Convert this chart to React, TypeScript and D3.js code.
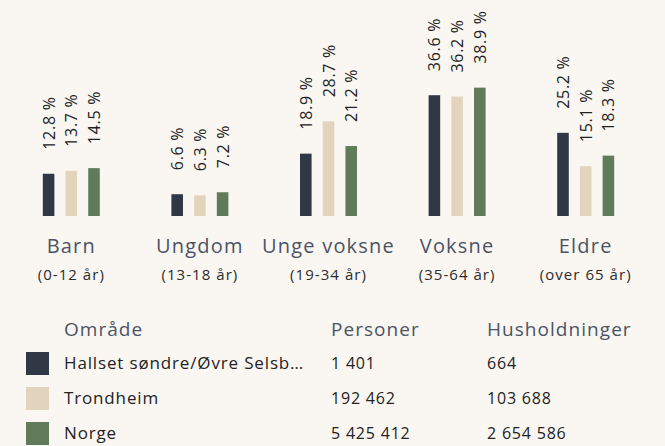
import { useEffect, useRef } from "react";
import * as d3 from "d3";

const groups = ["Barn", "Ungdom", "Unge voksne", "Voksne", "Eldre"];
const groupSub = ["(0-12 år)", "(13-18 år)", "(19-34 år)", "(35-64 år)", "(over 65 år)"];
const areas = ["Hallset søndre/Øvre Selsb…", "Trondheim", "Norge"];
const hallsetValues = [12.8, 6.6, 18.9, 36.6, 25.2];
const trondheimValues = [13.7, 6.3, 28.7, 36.2, 15.1];
const norgeValues = [14.5, 7.2, 21.2, 38.9, 18.3];
const personer = ["1 401", "192 462", "5 425 412"];
const husholdninger = ["664", "103 688", "2 654 586"];
const colors = ["#303845", "#e3d5bd", "#607b59"];

const App = () => {
  const ref = useRef<SVGSVGElement>(null);

  useEffect(() => {
    draw();
  }, []);

  const draw = () => {
    const width = 665;
    const height = 446;
    const font = "'Open Sans', Lato, sans-serif";
    const values = [hallsetValues, trondheimValues, norgeValues];

    const svg = d3.select(ref.current).attr("width", width).attr("height", height);
    svg.selectAll("*").remove();

    svg.append("rect").attr("width", width).attr("height", height).attr("fill", "#faf7f3");

    // group scale and inner scale for the three areas
    const x0 = d3.scaleBand().domain(groups).range([7, 650]);
    const x1 = d3
      .scaleBand()
      .domain(areas)
      .range([0, 57])
      .paddingInner(0.49)
      .paddingOuter(0);
    const y = d3.scaleLinear().domain([0, 40]).range([216, 84]);

    const g = svg
      .selectAll("g.group")
      .data(groups)
      .join("g")
      .attr("class", "group")
      .attr("transform", (d) => `translate(${(x0(d) ?? 0) + x0.bandwidth() / 2 - 28.5},0)`);

    g.each(function (grp, gi) {
      const sel = d3.select(this);
      areas.forEach((a, ai) => {
        const v = values[ai][gi];
        const bx = x1(a) ?? 0;
        sel
          .append("rect")
          .attr("x", bx)
          .attr("y", y(v))
          .attr("width", x1.bandwidth())
          .attr("height", y(0) - y(v))
          .attr("fill", colors[ai]);
        // rotated value labels
        sel
          .append("text")
          .attr("transform", `translate(${bx + x1.bandwidth() / 2 + 6},${y(v) - 24}) rotate(-90)`)
          .attr("font-family", font)
          .attr("font-size", 16)
          .attr("letter-spacing", "0.045em")
          .attr("fill", "#222")
          .text(`${v.toFixed(1)} %`);
      });
      sel
        .append("text")
        .attr("x", 28.5)
        .attr("y", 253)
        .attr("text-anchor", "middle")
        .attr("font-family", font)
        .attr("font-size", 20)
        .attr("letter-spacing", "0.06em")
        .attr("fill", "#4b5364")
        .text(grp);
      sel
        .append("text")
        .attr("x", 28.5)
        .attr("y", 280)
        .attr("text-anchor", "middle")
        .attr("font-family", font)
        .attr("font-size", 15)
        .attr("letter-spacing", "0.07em")
        .attr("fill", "#2b2b2b")
        .text(groupSub[gi]);
    });

    // legend table
    const cols = [64, 331, 487];
    const headers = ["Område", "Personer", "Husholdninger"];
    const table = svg.append("g");
    headers.forEach((h, i) => {
      table
        .append("text")
        .attr("x", cols[i])
        .attr("y", 336)
        .attr("font-family", font)
        .attr("font-size", 19)
        .attr("letter-spacing", "0.055em")
        .attr("fill", "#4b5364")
        .text(h);
    });

    const row = d3.scaleLinear().domain([0, 1]).range([352, 387]);
    areas.forEach((a, i) => {
      const ry = row(i);
      table
        .append("rect")
        .attr("x", 26)
        .attr("y", ry)
        .attr("width", 23)
        .attr("height", 23)
        .attr("fill", colors[i]);
      [a, personer[i], husholdninger[i]].forEach((t, ci) => {
        table
          .append("text")
          .attr("x", cols[ci])
          .attr("y", ry + 17)
          .attr("font-family", font)
          .attr("font-size", ci === 0 ? 17 : 16)
          .attr("letter-spacing", "0.05em")
          .attr("fill", "#222")
          .text(t);
      });
    });
  };

  return (
    <div style={{ position: "absolute", top: 0, left: 0 }}>
      <svg ref={ref} style={{ display: "block" }}></svg>
    </div>
  );
};

export default App;
